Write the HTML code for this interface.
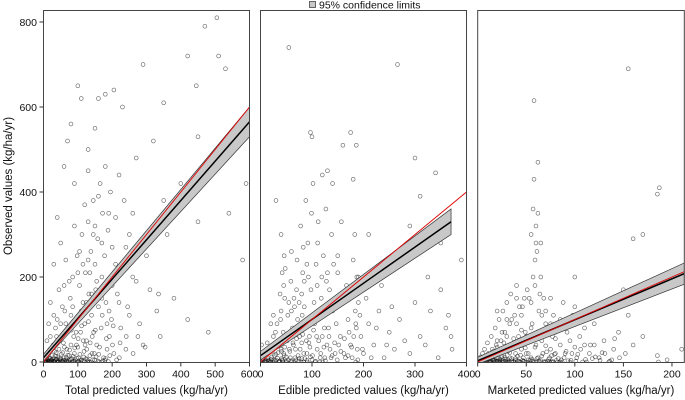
<!DOCTYPE html>
<html><head><meta charset="utf-8"><style>
body{margin:0;background:#fff;}
svg{display:block;font-family:"Liberation Sans",sans-serif;}
</style></head><body>
<svg id="chart" width="685" height="400"></svg>
<script>
const yTicks=[0,200,400,600,800];
const p1Ticks=[0,100,200,300,400,500,600];
const p2Ticks=[0,100,200,300,400];
const p3Ticks=[0,50,100,150,200];
const p1Points=[[5,2],[8,10],[10,0],[12,5],[15,20],[18,3],[20,8],[22,0],[25,15],[28,40],[30,2],[32,25],[35,6],[38,60],[40,0],[42,12],[45,30],[48,4],[50,90],[52,18],[55,0],[58,45],[60,10],[62,120],[65,5],[68,30],[70,70],[72,0],[75,15],[78,150],[80,40],[82,8],[85,200],[88,60],[90,20],[92,0],[95,100],[98,250],[100,35],[102,10],[105,180],[108,70],[110,5],[112,300],[115,140],[118,25],[120,90],[122,210],[125,50],[128,0],[130,330],[132,160],[135,15],[138,260],[140,110],[142,60],[145,380],[148,20],[150,230],[152,170],[155,40],[158,290],[160,130],[162,0],[165,420],[168,80],[170,200],[172,350],[175,10],[178,250],[180,460],[182,140],[185,30],[188,310],[190,190],[192,60],[195,400],[198,100],[200,270],[205,20],[210,340],[215,160],[220,440],[225,80],[230,220],[235,380],[240,30],[245,130],[250,300],[260,200],[270,480],[280,90],[290,40],[300,250],[310,170],[320,520],[330,120],[340,60],[350,380],[360,300],[380,150],[400,420],[420,100],[450,330],[480,70],[500,450],[540,350],[580,240],[590,420],[60,460],[70,520],[80,560],[100,650],[110,620],[130,450],[150,550],[160,620],[180,630],[205,640],[230,600],[290,700],[350,610],[420,720],[445,650],[470,790],[505,810],[510,720],[530,690],[450,530],[40,340],[30,230],[20,140],[15,90],[10,50],[3,0],[6,4],[9,1],[14,0],[16,9],[21,3],[24,0],[27,6],[33,0],[36,14],[41,3],[44,0],[47,8],[53,2],[56,22],[63,0],[66,11],[73,3],[76,28],[83,0],[86,14],[93,5],[96,40],[103,0],[106,18],[113,2],[116,50],[123,8],[126,30],[133,0],[136,45],[143,5],[146,70],[153,12],[163,35],[173,3],[183,55],[193,15],[203,85],[213,5],[223,45],[30,110],[45,170],[55,130],[65,240],[75,190],[90,320],[105,260],[120,370],[135,210],[145,300],[160,390],[170,280],[190,350],[210,230],[240,270],[260,350],[130,500],[90,420],[50,280],[2,6],[7,0],[11,14],[17,2],[19,30],[26,1],[29,10],[34,3],[37,22],[43,1],[46,50],[51,7],[57,0],[61,35],[67,2],[71,16],[77,4],[81,75],[87,1],[91,33],[97,9],[101,55],[107,0],[111,85],[117,12],[121,40],[127,6],[131,95],[141,20],[151,75],[161,18],[171,110],[181,8],[191,120],[201,40],[221,10],[241,60],[261,20],[296,35],[335,160],[275,60],
[4,3],[13,1],[23,5],[31,0],[39,7],[49,1],[59,4],[69,0],[79,6],[89,2],[99,0],[109,4],[119,1],[129,3],[139,0],[149,5],[159,2],[169,0],[179,4],[189,1],[20,60],[35,80],[50,55],[65,90],[80,110],[95,70],[110,120],[125,140],[140,160],[155,190],[100,210],[115,230],[60,180],[40,100],[85,130],[130,240],[150,320],[170,150],[185,90],[200,180],[220,140],[250,110],[270,190]];
const p2Points=[[3,0],[5,8],[8,2],[10,20],[12,0],[15,5],[18,35],[20,1],[22,12],[25,60],[28,3],[30,18],[32,90],[35,0],[38,40],[40,120],[42,5],[44,70],[45,180],[46,15],[48,220],[50,2],[52,50],[55,140],[58,10],[60,260],[62,80],[65,0],[68,30],[70,170],[72,100],[75,8],[78,320],[80,45],[82,210],[84,0],[85,130],[88,380],[90,20],[92,280],[95,60],[98,170],[100,5],[102,420],[105,90],[108,230],[110,30],[112,330],[115,0],[118,150],[120,60],[122,250],[125,10],[128,190],[130,450],[132,80],[135,30],[138,300],[140,120],[145,20],[150,210],[155,60],[160,150],[165,10],[170,100],[175,40],[180,240],[182,170],[185,0],[185,90],[186,510],[188,30],[190,140],[195,60],[200,20],[210,90],[220,40],[230,120],[240,10],[250,70],[260,30],[270,100],[290,20],[310,60],[320,40],[330,120],[340,300],[350,170],[360,80],[370,60],[372,30],[2,40],[6,15],[9,0],[13,45],[16,3],[19,0],[23,25],[26,4],[29,70],[33,9],[36,0],[39,100],[41,25],[43,3],[47,150],[49,60],[51,0],[53,110],[56,30],[59,190],[61,0],[63,45],[66,130],[69,5],[71,240],[73,15],[76,60],[79,0],[81,110],[83,270],[86,8],[89,50],[91,0],[93,200],[96,35],[99,350],[101,15],[104,140],[106,0],[109,60],[111,280],[114,110],[117,20],[119,200],[121,0],[124,80],[127,360],[129,40],[134,170],[137,10],[142,230],[147,90],[152,40],[157,330],[162,20],[167,180],[172,70],[178,10],[183,300],[187,200],[189,5],[193,110],[198,30],[205,150],[215,10],[225,80],[235,180],[245,40],[255,130],[280,50],[300,140],[325,200],[345,10],[365,110],[55,740],[266,700],[97,540],[100,530],[30,380],[120,440],[140,420],[160,510],[175,540],[180,430],[210,300],[300,480],[310,390],[340,445],[350,280],[290,320],[390,240],
[1,2],[4,5],[7,0],[11,3],[14,10],[17,1],[21,6],[24,0],[27,15],[31,4],[34,22],[37,2],[40,30],[41,8],[43,50],[44,0],[45,20],[47,35],[50,12],[54,5],[57,25],[60,3],[64,40],[67,10],[70,55],[74,2],[77,30],[80,8],[82,65],[84,20],[87,90],[90,4],[94,45],[97,12],[103,75],[107,2],[113,50],[116,10],[123,35],[126,3],[133,60],[139,15],[144,45],[149,5],[156,25],[163,55],[170,15],[177,35],[181,60],[184,120],[186,80],[188,160],[190,200],[38,160],[42,210],[46,250],[40,300],[80,160],[85,190],[90,230],[75,140],[110,180],[130,210],[150,250],[20,90],[25,110],[60,120],[65,150]];
const p3Points=[[1,0],[2,5],[3,12],[4,0],[5,20],[6,3],[7,30],[8,0],[9,8],[10,45],[11,2],[12,15],[13,0],[14,60],[15,5],[16,25],[17,0],[18,80],[19,10],[20,35],[21,0],[22,100],[23,4],[24,50],[25,0],[26,120],[27,15],[28,70],[29,2],[30,140],[31,25],[32,0],[33,90],[34,160],[35,8],[36,40],[37,0],[38,110],[39,20],[40,180],[41,3],[42,60],[43,130],[44,0],[45,30],[46,130],[47,10],[48,150],[49,70],[50,0],[51,170],[52,20],[53,150],[54,5],[55,300],[56,90],[57,360],[58,0],[58,430],[59,180],[60,40],[61,260],[62,10],[63,120],[64,0],[65,200],[66,50],[67,20],[68,150],[70,0],[72,80],[74,10],[75,30],[76,0],[77,60],[78,110],[80,20],[82,0],[84,90],[85,40],[86,5],[88,140],[90,20],[92,70],[95,0],[98,110],[100,35],[102,10],[105,60],[108,0],[110,40],[115,20],[120,90],[125,10],[130,50],[135,0],[140,30],[145,70],[150,170],[152,20],[155,110],[160,40],[170,60],[185,15],[186,0],[195,5],[210,30],[2,1],[3,0],[4,8],[5,2],[6,0],[7,4],[8,14],[9,0],[10,6],[11,20],[12,1],[13,9],[14,0],[15,30],[16,3],[17,12],[18,0],[19,40],[20,2],[21,18],[22,0],[23,7],[24,25],[25,3],[26,0],[27,45],[28,11],[30,0],[31,6],[33,22],[35,0],[37,55],[39,4],[41,14],[43,0],[45,75],[47,2],[49,33],[52,0],[54,48],[56,6],[60,0],[62,65],[65,3],[68,0],[70,38],[72,2],[74,0],[76,15],[78,0],[80,55],[83,8],[87,0],[91,25],[96,4],[103,18],[112,0],[118,8],[128,22],[138,5],[20,120],[30,100],[40,90],[45,110],[60,320],[62,350],[55,140],[65,280],[70,120],[75,90],[85,100],[90,80],[100,130],[40,150],[30,60],[58,615],[62,470],[155,690],[185,395],[187,410],[170,300],[160,290],[100,200],[75,150],
[1,3],[3,1],[5,6],[7,1],[9,3],[11,7],[13,2],[15,11],[17,4],[19,1],[21,9],[23,2],[25,13],[27,1],[29,6],[31,0],[33,10],[35,3],[37,1],[39,8],[42,2],[44,16],[46,4],[48,1],[50,20],[52,5],[55,10],[57,2],[59,35],[61,8],[63,3],[66,14],[69,1],[71,24],[73,6],[77,1],[79,18],[81,4],[85,0],[89,10],[93,3],[97,20],[101,2],[106,30],[111,6],[116,40],[121,12],[126,4],[131,20],[136,2],[141,55],[146,10],[20,50],[25,70],[35,100],[50,60],[55,80],[57,200],[59,240],[60,280],[64,160],[66,110],[70,90],[80,70],[95,50],[110,80],[120,40]];
const fits=[
 {x0:0,x1:600,y0:10,y1:565,lo1:530,hi1:600,lo0:2,hi0:18,red:600},
 {x0:0,x1:370,y0:15,y1:330,lo1:300,hi1:360,lo0:5,hi0:25,red:400},
 {x0:0,x1:212.7,y0:3,y1:208,lo1:183,hi1:233,lo0:-5,hi0:11,red:212.7}
];
const panels=[
 {l:43.5,r:249.5,xmax:600,ticks:p1Ticks,pts:p1Points,label:"Total predicted values (kg/ha/yr)",name:"total"},
 {l:260.5,r:466.5,xmax:400,ticks:p2Ticks,pts:p2Points,label:"Edible predicted values (kg/ha/yr)",name:"edible"},
 {l:477.7,r:684.3,xmax:212.7,ticks:p3Ticks,pts:p3Points,label:"Marketed predicted values (kg/ha/yr)",name:"marketed"}
];
const topY=10.5,botY=362.5;
const NS="http://www.w3.org/2000/svg";
const svg=document.getElementById('chart');
function yS(v){return 362-v*(340/800);}
function mk(tag,attrs,parent){const e=document.createElementNS(NS,tag);for(const k in attrs)e.setAttribute(k,attrs[k]);(parent||svg).appendChild(e);return e;}
panels.forEach((p,i)=>{
 const xS=v=>p.l+(v/p.xmax)*(p.r-p.l);
 const g=mk('g',{});
 
 
 const cid='clip'+i;
 const cp=mk('clipPath',{id:cid},g);mk('rect',{x:p.l,y:topY,width:p.r-p.l,height:botY-topY},cp);
 const pg=mk('g',{'clip-path':'url(#'+cid+')'},g);
 p.pts.forEach(d=>{
  const c=mk('circle',{cx:xS(d[0]),cy:yS(d[1]),r:1.9,fill:'none',stroke:'rgba(0,0,0,0.6)','stroke-width':0.65},pg);
  
  
 });
 const f=fits[i];
 const band=mk('polygon',{points:`${xS(f.x0)},${yS(f.hi0)} ${xS(f.x1)},${yS(f.hi1)} ${xS(f.x1)},${yS(f.lo1)} ${xS(f.x0)},${yS(f.lo0)}`,fill:'#c8c8c8',stroke:'#333','stroke-width':0.7},pg);
 
 
 const fl=mk('line',{x1:xS(f.x0),y1:yS(f.y0),x2:xS(f.x1),y2:yS(f.y1),stroke:'#000','stroke-width':1.5},pg);
 
 
 const rl=mk('line',{x1:xS(0),y1:yS(0),x2:xS(f.red),y2:yS(f.red),stroke:'#e00000','stroke-width':0.9},pg);
 
 
 const fr=mk('rect',{x:p.l,y:topY,width:p.r-p.l,height:botY-topY,fill:'none',stroke:'#444','stroke-width':1},g);
 
 
 p.ticks.forEach(t=>{
  mk('line',{x1:xS(t),y1:botY,x2:xS(t),y2:botY+4,stroke:'#333'},g);
  const tx=mk('text',{x:xS(t),y:botY+15,'font-size':10.5,'text-anchor':'middle',fill:'#111'},g);tx.textContent=t;
  
  
 });
 const xl=mk('text',{x:(p.l+p.r)/2,y:394,'font-size':11.5,'text-anchor':'middle',fill:'#111'},g);xl.textContent=p.label;
 
 
});
yTicks.forEach(t=>{
 mk('line',{x1:39.5,y1:yS(t),x2:43.5,y2:yS(t),stroke:'#333'});
 const tx=mk('text',{x:37,y:yS(t)+4,'font-size':10.5,'text-anchor':'end',fill:'#111'});tx.textContent=t;
 
 
});
const yl=mk('text',{x:0,y:0,'font-size':11.5,'text-anchor':'middle',fill:'#111',transform:'translate(12,186) rotate(-90)'});
yl.textContent='Observed values (kg/ha/yr)';


const lg=mk('g',{});


mk('rect',{x:309.5,y:1.5,width:6,height:6,fill:'#c8c8c8',stroke:'#444','stroke-width':0.8},lg);
const lt=mk('text',{x:319,y:8.5,'font-size':10.5,fill:'#111'},lg);lt.textContent='95% confidence limits';
</script>
</body></html>
